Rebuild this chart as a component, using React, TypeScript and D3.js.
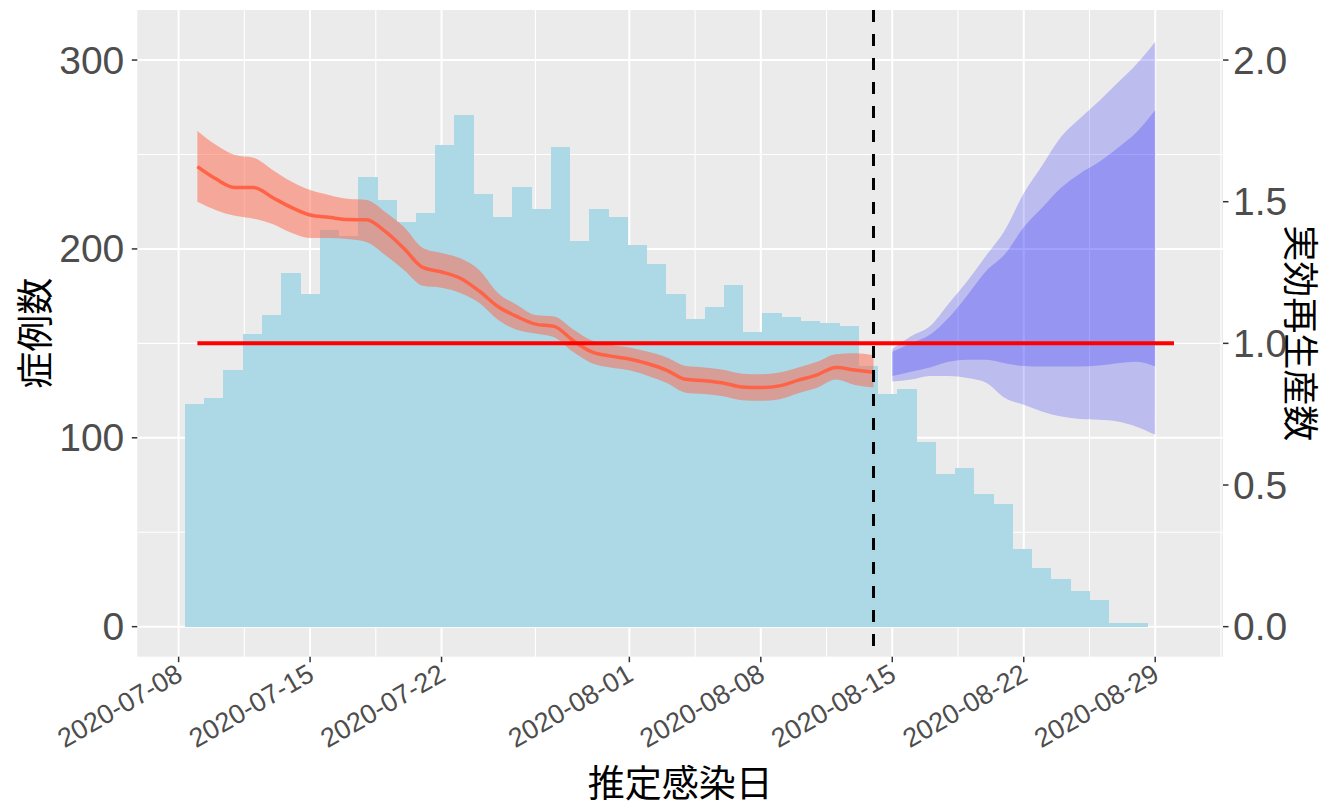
import * as d3 from 'd3'
import React from 'react'

// infection-date histogram: 50 equal bins
const histFrom = '2020-07-08T08:10:00Z'
const histTo = '2020-08-28T13:55:00Z'
const caseCounts = [
    118, 121, 136, 155, 165, 187, 176, 210, 207, 238, 226, 214, 219, 255, 271, 229, 217, 233, 221,
    254, 204, 221, 217, 202, 192, 176, 163, 169, 181, 156, 166, 164, 162, 161, 159, 138, 123, 126,
    98, 81, 84, 70, 65, 41, 31, 25, 19, 14, 2, 2,
]

// effective reproduction number, one value per day from rtStart
const rtStart = '2020-07-09'
const rtMean = [
    1.624, 1.58, 1.55, 1.55, 1.515, 1.48, 1.453, 1.445, 1.437, 1.436, 1.395, 1.335, 1.268, 1.252,
    1.23, 1.185, 1.13, 1.095, 1.068, 1.06, 1.01, 0.97, 0.955, 0.945, 0.928, 0.905, 0.873, 0.868,
    0.86, 0.846, 0.844, 0.85, 0.87, 0.889, 0.915, 0.906, 0.898,
]
const rtHigh = [
    1.75, 1.7, 1.665, 1.655, 1.612, 1.571, 1.541, 1.524, 1.51, 1.506, 1.464, 1.411, 1.337, 1.319,
    1.3, 1.259, 1.178, 1.136, 1.1, 1.095, 1.05, 1.01, 0.995, 0.985, 0.97, 0.95, 0.92, 0.915, 0.907,
    0.893, 0.891, 0.897, 0.915, 0.935, 0.962, 0.965, 0.958,
]
const rtLow = [
    1.5, 1.47, 1.45, 1.44, 1.421, 1.39, 1.372, 1.372, 1.368, 1.358, 1.312, 1.259, 1.203, 1.196,
    1.178, 1.143, 1.083, 1.048, 1.035, 1.022, 0.97, 0.93, 0.915, 0.905, 0.885, 0.86, 0.826, 0.821,
    0.813, 0.799, 0.797, 0.803, 0.824, 0.843, 0.872, 0.853, 0.845,
]

// projection band, one value per day from projStart
const projStart = '2020-08-15'
const projOuterHigh = [
    0.98, 1.025, 1.06, 1.14, 1.22, 1.31, 1.4, 1.53, 1.63, 1.73, 1.795, 1.855, 1.92, 1.985, 2.065,
]
const projInnerHigh = [
    0.97, 1.0, 1.03, 1.09, 1.17, 1.255, 1.315, 1.41, 1.48, 1.55, 1.6, 1.64, 1.69, 1.745, 1.824,
]
const projInnerLow = [
    0.885, 0.9, 0.915, 0.935, 0.942, 0.942, 0.93, 0.92, 0.918, 0.918, 0.918, 0.922, 0.93, 0.935,
    0.918,
]
const projOuterLow = [
    0.865, 0.872, 0.885, 0.885, 0.878, 0.861, 0.807, 0.783, 0.759, 0.742, 0.733, 0.73, 0.724, 0.706,
    0.677,
]

const refFrom = '2020-07-09'
const refTo = '2020-08-30'
const cutoffDate = '2020-08-14'

const xTicks = [
    '2020-07-08',
    '2020-07-15',
    '2020-07-22',
    '2020-08-01',
    '2020-08-08',
    '2020-08-15',
    '2020-08-22',
    '2020-08-29',
]
const leftTicks = [0, 100, 200, 300]
const leftMinor = [50, 150, 250]
const rightTicks = [0, 0.5, 1, 1.5, 2]
const rightFactor = 150

const xTitle = '推定感染日'
const yTitle = '症例数'
const y2Title = '実効再生産数'

const width = 1330
const height = 809
const margin = { top: 10, right: 107, bottom: 152.3, left: 137.3 }

const parse = (s: string) => new Date(s.length === 10 ? `${s}T00:00:00Z` : s)

const App = (): JSX.Element => {
    const dayMs = 864e5
    const x0 = parse('2020-07-08').getTime()
    const xScale = d3
        .scaleUtc()
        .domain([new Date(x0 - 2.2 * dayMs), new Date(x0 + 55.61 * dayMs)])
        .range([margin.left, width - margin.right])
    const yScale = d3
        .scaleLinear()
        .domain([-15.9, 326.5])
        .range([height - margin.bottom, margin.top])
    const rScale = d3
        .scaleLinear()
        .domain(yScale.domain().map((d) => d / rightFactor))
        .range(yScale.range())

    const [pl, pr] = xScale.range()
    const [pb, pt] = yScale.range()

    // minor x grid: halfway between majors, extended one step at each end
    const majorT = xTicks.map((t) => parse(t).getTime())
    const minorT = [] as number[]
    for (let i = 0; i < majorT.length - 1; i++) minorT.push((majorT[i] + majorT[i + 1]) / 2)
    minorT.unshift(majorT[0] - (majorT[1] - majorT[0]) / 2)
    minorT.push(majorT[majorT.length - 1] + (majorT[majorT.length - 1] - majorT[majorT.length - 2]) / 2)
    const minorX = minorT.map((t) => xScale(new Date(t))).filter((v) => v >= pl && v <= pr)

    // histogram bins
    const hFrom = parse(histFrom).getTime()
    const binW = (parse(histTo).getTime() - hFrom) / caseCounts.length

    const dayAt = (start: string, i: number) => d3.utcDay.offset(parse(start), i)

    const rtArea = d3
        .area<number>()
        .x((_, i) => xScale(dayAt(rtStart, i)))
        .y0((d) => rScale(d))
        .y1((_, i) => rScale(rtHigh[i]))
        .curve(d3.curveMonotoneX)
    const rtLine = d3
        .line<number>()
        .x((_, i) => xScale(dayAt(rtStart, i)))
        .y((d) => rScale(d))
        .curve(d3.curveMonotoneX)

    const projArea = (lo: number[], hi: number[]) =>
        d3
            .area<number>()
            .x((_, i) => xScale(dayAt(projStart, i)))
            .y0((d) => rScale(d))
            .y1((_, i) => rScale(hi[i]))
            .curve(d3.curveMonotoneX)(lo)

    const tickFont = '"Liberation Sans", Arial, sans-serif'
    const cjkFont = '"Noto Sans CJK JP", "Noto Sans", sans-serif'
    const cx = xScale(parse(cutoffDate))

    return (
        <svg width={width} height={height} style={{ display: 'block', position: 'absolute', left: 0, top: 0, background: '#fff' }}>
            <rect x={pl} y={pt} width={pr - pl} height={pb - pt} fill="#ebebeb" />
            {leftMinor.map((v) => (
                <line key={`ym${v}`} x1={pl} x2={pr} y1={yScale(v)} y2={yScale(v)} stroke="#fff" strokeWidth={1.1} />
            ))}
            {minorX.map((v) => (
                <line key={`xm${v}`} x1={v} x2={v} y1={pt} y2={pb} stroke="#fff" strokeWidth={1.1} />
            ))}
            {leftTicks.map((v) => (
                <line key={`y${v}`} x1={pl} x2={pr} y1={yScale(v)} y2={yScale(v)} stroke="#fff" strokeWidth={2} />
            ))}
            {xTicks.map((t) => (
                <line key={`x${t}`} x1={xScale(parse(t))} x2={xScale(parse(t))} y1={pt} y2={pb} stroke="#fff" strokeWidth={2} />
            ))}

            {caseCounts.map((c, i) => {
                const a = xScale(new Date(hFrom + i * binW))
                const b = xScale(new Date(hFrom + (i + 1) * binW))
                return (
                    <rect
                        key={`bar${i}`}
                        x={a}
                        width={b - a + 0.3}
                        y={yScale(c)}
                        height={yScale(0) - yScale(c)}
                        fill="#add8e6"
                        shapeRendering="crispEdges"
                    />
                )
            })}

            <path d={rtArea(rtLow) || ''} fill="#ff6347" fillOpacity={0.5} />
            <path d={rtLine(rtMean) || ''} fill="none" stroke="#ff6347" strokeWidth={3.5} />

            <path d={projArea(projOuterLow, projOuterHigh) || ''} fill="#0000ff" fillOpacity={0.2} />
            <path d={projArea(projInnerLow, projInnerHigh) || ''} fill="#0000ff" fillOpacity={0.2} />

            <line
                x1={xScale(parse(refFrom))}
                x2={xScale(parse(refTo))}
                y1={rScale(1)}
                y2={rScale(1)}
                stroke="#ff0000"
                strokeWidth={4}
            />
            <line x1={cx} x2={cx} y1={pt} y2={pb} stroke="#000" strokeWidth={3} strokeDasharray="12 12" />

            {/* left axis */}
            {leftTicks.map((v) => (
                <g key={`lt${v}`}>
                    <line x1={pl - 5.5} x2={pl} y1={yScale(v)} y2={yScale(v)} stroke="#333" strokeWidth={1.5} />
                    <text
                        x={pl - 13}
                        y={yScale(v)}
                        textAnchor="end"
                        dominantBaseline="central"
                        fontFamily={tickFont}
                        fontSize={39}
                        fill="#4d4d4d"
                    >
                        {v}
                    </text>
                </g>
            ))}
            {/* right axis */}
            {rightTicks.map((v) => (
                <g key={`rt${v}`}>
                    <line x1={pr} x2={pr + 5.5} y1={rScale(v)} y2={rScale(v)} stroke="#333" strokeWidth={1.5} />
                    <text
                        x={pr + 10}
                        y={rScale(v)}
                        textAnchor="start"
                        dominantBaseline="central"
                        fontFamily={tickFont}
                        fontSize={39}
                        fill="#4d4d4d"
                    >
                        {v.toFixed(1)}
                    </text>
                </g>
            ))}
            {/* bottom axis */}
            {xTicks.map((t) => {
                const xv = xScale(parse(t))
                return (
                    <g key={`bt${t}`}>
                        <line x1={xv} x2={xv} y1={pb} y2={pb + 5.5} stroke="#333" strokeWidth={1.5} />
                        <text
                            transform={`translate(${xv - 4},${pb + 6}) rotate(-30)`}
                            textAnchor="end"
                            dominantBaseline="hanging"
                            fontFamily={tickFont}
                            fontSize={27}
                            fill="#4d4d4d"
                        >
                            {t}
                        </text>
                    </g>
                )
            })}

            <text
                x={(pl + pr) / 2}
                y={797}
                textAnchor="middle"
                fontFamily={cjkFont}
                fontSize={37}
                fill="#000"
            >
                {xTitle}
            </text>
            <text
                transform={`translate(33,${(pt + pb) / 2}) rotate(-90)`}
                textAnchor="middle"
                dominantBaseline="central"
                fontFamily={cjkFont}
                fontSize={37}
                fill="#000"
            >
                {yTitle}
            </text>
            <text
                transform={`translate(1303,${(pt + pb) / 2}) rotate(90)`}
                textAnchor="middle"
                dominantBaseline="central"
                fontFamily={cjkFont}
                fontSize={36}
                fill="#000"
            >
                {y2Title}
            </text>
        </svg>
    )
}

export default App
